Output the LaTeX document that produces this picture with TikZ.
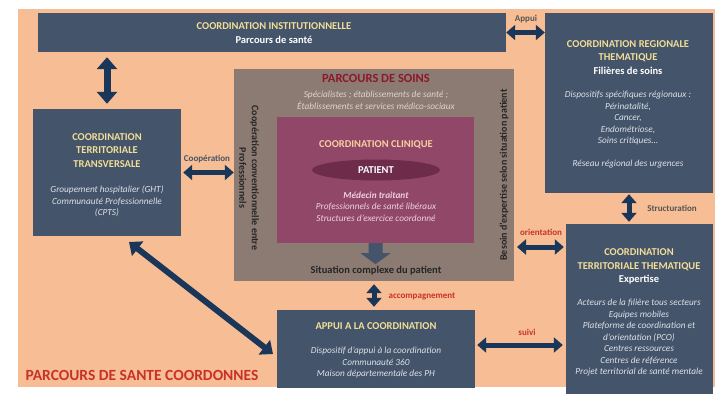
\documentclass[tikz,border=0pt]{standalone}
\usepackage{fontspec}
\setmainfont{Carlito}
\usetikzlibrary{arrows.meta,shapes.geometric,calc}

\definecolor{peachbg}{RGB}{247,189,148}
\definecolor{slate}{RGB}{68,84,106}
\definecolor{brownbox}{RGB}{140,123,115}
\definecolor{pinkbox}{RGB}{145,72,104}
\definecolor{ellcol}{RGB}{108,44,74}
\definecolor{goldtxt}{RGB}{242,222,150}
\definecolor{navy}{RGB}{26,54,88}
\definecolor{redlbl}{RGB}{200,50,40}
\definecolor{darkred}{RGB}{140,25,40}
\definecolor{ittxt}{RGB}{222,225,232}
\definecolor{pinktxt}{RGB}{238,208,220}
\definecolor{cliniqtxt}{RGB}{250,205,160}
\definecolor{soinstxt}{RGB}{222,212,206}
\definecolor{lblgrey}{RGB}{85,85,85}

\tikzset{
  box/.style={fill=slate, draw=none, inner sep=0pt},
  ttl/.style={font=\bfseries\fontsize{10.5}{13.5}\selectfont, text=goldtxt, align=center, inner sep=0pt},
  itl/.style={font=\itshape\fontsize{9.3}{11.5}\selectfont, text=ittxt, align=center, inner sep=0pt},
  lbl/.style={font=\bfseries\fontsize{9}{11}\selectfont, inner sep=0pt},
  dbl/.style={draw=navy, line width=5pt, {Triangle[length=9pt,width=15pt]}-{Triangle[length=9pt,width=15pt]}},
  bigdbl/.style={draw=navy, line width=7pt, {Triangle[length=12pt,width=20pt]}-{Triangle[length=12pt,width=20pt]}},
  rot/.style={font=\bfseries\fontsize{10}{12.5}\selectfont, text=black!85, align=center, inner sep=0pt}
}

\begin{document}
\begin{tikzpicture}[x=1pt,y=-1pt]
\useasboundingbox (0,0) rectangle (715,397);
\fill[white] (0,0) rectangle (715,397);
\fill[peachbg] (18,9) rectangle (715,387);

% boxes
\node[box, minimum width=468pt, minimum height=39pt] (inst) at (272,32.5) {};
\node[box, minimum width=168pt, minimum height=180pt] (reg) at (629,103) {};
\node[box, minimum width=148pt, minimum height=127pt] (ctt) at (107,172.5) {};
\node[box, fill=brownbox, minimum width=280pt, minimum height=212pt] (soins) at (374,175) {};
\node[box, fill=pinkbox, minimum width=197pt, minimum height=126pt] (clin) at (375.5,180) {};
\node[box, minimum width=198pt, minimum height=78pt] (appui) at (376,349) {};
\node[box, minimum width=147pt, minimum height=170pt] (ctth) at (639.5,309) {};
\node[ellipse, fill=ellcol, minimum width=128pt, minimum height=21pt, inner sep=0pt] (patient) at (376,170) {};

% institutional coordination
\node[ttl] (inst-t) at (274,33) {COORDINATION INSTITUTIONNELLE\\\textcolor{white}{Parcours de santé}};

% regional thematic coordination
\node[ttl] (reg-t) at (628,57.5) {COORDINATION REGIONALE\\THEMATIQUE\\\textcolor{white}{Filières de soins}};
\node[itl] (reg-i) at (628,130) {Dispositifs spécifiques régionaux :\\Périnatalité,\\Cancer,\\Endométriose,\\Soins critiques…\\[11.5pt]Réseau régional des urgences};

% transversal territorial coordination
\node[ttl] (ctt-t) at (107,150.5) {COORDINATION\\TERRITORIALE\\TRANSVERSALE};
\node[itl] (ctt-i) at (107,201.5) {Groupement hospitalier (GHT)\\Communauté Professionnelle\\(CPTS)};

% care pathway
\node[font=\bfseries\fontsize{12.5}{14}\selectfont, text=darkred, inner sep=0pt] (soins-t) at (376,78) {PARCOURS DE SOINS};
\node[itl, text=soinstxt] (soins-i) at (376,100.5) {Spécialistes ; établissements de santé ;\\Établissements et services médico-sociaux};

% clinical coordination
\node[ttl, text=cliniqtxt] (clin-t) at (376,145) {COORDINATION CLINIQUE};
\node[font=\bfseries\fontsize{10.5}{12}\selectfont, text=white, inner sep=0pt] (patient-t) at (patient) {PATIENT};
\node[itl, text=pinktxt] (clin-i) at (376,206.5) {\textbf{Médecin traitant}\\Professionnels de santé libéraux\\Structures d'exercice coordonné};

% block arrow towards the complex situation
\fill[slate] (clin.south) ++(-7,0) -- ++(14,0) -- ++(0,10) -- ++(8,0) -- ++(-15,11) -- ++(-15,-11) -- ++(8,0) -- cycle;
\node[font=\bfseries\fontsize{10.5}{12}\selectfont, text=black!85, inner sep=0pt] (sit) at (376,271) {Situation complexe du patient};

% side texts of the care pathway
\node[rot, rotate=-90] (coop-v) at (249,178) {Coopération conventionnelle entre\\Professionnels};
\node[rot, rotate=90] (besoin-v) at (504,175) {Besoin d'expertise selon situation patient};

% support to coordination
\node[ttl] (appui-t) at (376,326) {APPUI A LA COORDINATION};
\node[itl] (appui-i) at (376,363) {Dispositif d'appui à la coordination\\Communauté 360\\Maison départementale des PH};

% thematic territorial coordination
\node[ttl] (ctth-t) at (639,266.5) {COORDINATION\\TERRITORIALE THEMATIQUE\\\textcolor{white}{Expertise}};
\node[itl] (ctth-i) at (639,338) {Acteurs de la filière tous secteurs\\Equipes mobiles\\Plateforme de coordination et\\d'orientation (PCO)\\Centres ressources\\Centres de référence\\Projet territorial de santé mentale};

% title
\node[font=\bfseries\fontsize{15.5}{17}\selectfont, text=redlbl, inner sep=0pt] (main-t) at (142,375) {PARCOURS DE SANTE COORDONNES};

% connectors
\draw[bigdbl, shorten <=5pt, shorten >=5pt] (ctt.north) -- (ctt.north |- inst.south);
\draw[dbl] (inst.east) -- (inst.east -| reg.west);
\draw[dbl, shorten <=2pt] (ctt.east) -- (ctt.east -| soins.west);
\coordinate (diagA) at (129,242);
\coordinate (diagB) at (273,354);
\draw[draw=navy, line width=6pt, {Triangle[length=11pt,width=18pt]}-{Triangle[length=11pt,width=18pt]}] (diagA) -- (diagB);
\draw[dbl, shorten <=1pt, shorten >=2pt] (reg.south) -- (reg.south |- ctth.north);
\coordinate (orA) at (517,247);
\draw[dbl, shorten >=2pt] (orA) -- (orA -| ctth.west);
\draw[dbl, shorten <=3pt, shorten >=3pt] (soins.south) -- (soins.south |- appui.north);
\draw[dbl, shorten <=2pt, shorten >=3pt] ([yshift=4pt]appui.east) -- ([yshift=4pt]appui.east -| ctth.west);

% connector labels
\node[lbl, text=lblgrey] (appui-l) at (526,19) {Appui};
\node[lbl, text=slate] (coop-l) at (207,159) {Coopération};
\node[lbl, text=lblgrey] (struct-l) at (672,208) {Structuration};
\node[lbl, text=redlbl] (orient-l) at (541,232) {orientation};
\node[lbl, text=redlbl] (accomp-l) at (422,296) {accompagnement};
\node[lbl, text=redlbl] (suivi-l) at (527,332) {suivi};
\end{tikzpicture}
\end{document}
